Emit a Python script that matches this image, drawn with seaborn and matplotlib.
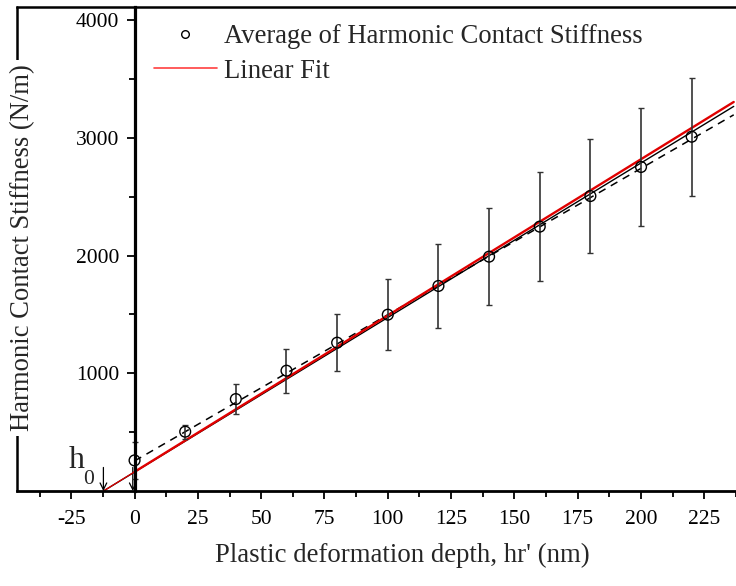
import matplotlib
matplotlib.use("Agg")
import matplotlib.pyplot as plt
from matplotlib.lines import Line2D
import numpy as np
import pandas as pd
import seaborn as sns

# ---- data ----
depth = [0, 20, 40, 60, 80, 100, 120, 140, 160, 180, 200, 220]
stiffness = [260, 504, 781, 1022, 1260, 1498, 1742, 1991, 2246, 2506, 2753, 3010]
stiff_err = [160, 60, 127, 188, 241, 303, 355, 411, 460, 485, 499, 500]

fit_red = (13.28, 163.0)      # slope, intercept (Linear Fit)
fit_black = (13.13, 161.0)    # thin black solid fit
fit_dash = (12.43, 255.0)     # dashed fit through data
h0 = -12.3

xticks = [-25, 0, 25, 50, 75, 100, 125, 150, 175, 200, 225]
yticks = [1000, 2000, 3000, 4000]
xlim = (-46.3, 236.6)
ylim = (0, 4112)

sns.set_theme(style="white")
plt.rcParams["font.family"] = ["Liberation Serif", "DejaVu Serif"]
plt.rcParams["axes.unicode_minus"] = False

fig = plt.figure(figsize=(7.36, 5.86), dpi=100)
W, H = 736, 586
ax = fig.add_axes([17.3 / W, (H - 491) / H, 1 - 17.3 / W, (491 - 7) / H])
ax.set_xlim(*xlim)
ax.set_ylim(*ylim)

df = pd.DataFrame({"depth": depth, "stiffness": stiffness, "err": stiff_err})

def fit_df(p, x0, x1):
    xs = [x0, x1]
    return pd.DataFrame({"x": xs, "y": [p[0] * v + p[1] for v in xs]})

sns.lineplot(data=fit_df(fit_dash, 0, xlim[1]), x="x", y="y", ax=ax, color="black",
             lw=1.1, linestyle=(0, (5, 4)), zorder=3)
sns.lineplot(data=fit_df(fit_black, h0, xlim[1]), x="x", y="y", ax=ax, color="black",
             lw=1.0, zorder=3)
sns.lineplot(data=fit_df(fit_red, h0, 0), x="x", y="y", ax=ax, color="#e00000",
             lw=0.9, zorder=4)
sns.lineplot(data=fit_df(fit_red, 0, xlim[1]), x="x", y="y", ax=ax, color="#e00000",
             lw=1.7, zorder=4)

ax.errorbar(df["depth"], df["stiffness"], yerr=df["err"], fmt="none",
            ecolor="#333333", elinewidth=1.2, capsize=2.2, capthick=1.0, zorder=5)
sns.scatterplot(data=df, x="depth", y="stiffness", ax=ax, marker="o", s=60,
                facecolor="none", edgecolor="black", linewidth=1.0, zorder=6)

ax.spines["left"].set_position(("data", 0))
ax.spines["left"].set_linewidth(2.3)
ax.spines["bottom"].set_linewidth(2.0)
ax.spines["top"].set_linewidth(1.8)
ax.spines["right"].set_visible(False)
for s in ["left", "bottom", "top"]:
    ax.spines[s].set_color("black")
    ax.spines[s].set_zorder(7)
ax.plot([0, 0], [0, 1], transform=ax.transAxes, color="black", lw=1.8,
        clip_on=False, zorder=1)

ax.set_xticks(xticks)
ax.set_xticks([t + 12.5 for t in [-50] + xticks], minor=True)
ax.set_yticks(yticks)
ax.set_yticks([500, 1500, 2500, 3500], minor=True)
ax.tick_params(axis="both", which="major", direction="out", length=6, width=1.3,
               labelsize=15.5, color="black", labelcolor="black")
ax.tick_params(axis="both", which="minor", direction="out", length=4, width=1.3,
               color="black")
ax.tick_params(axis="x", pad=8, bottom=True)
ax.tick_params(axis="x", which="minor", bottom=True)
ax.tick_params(axis="y", pad=5, left=True)
ax.tick_params(axis="y", which="minor", left=True)
ax.set_xlabel("")
ax.set_ylabel("")

fig.text(402 / W, 1 - 555 / H, "Plastic deformation depth, hr' (nm)", ha="center",
         va="center", fontsize=19.3)
fig.text(23 / W, 1 - 248 / H, "Harmonic Contact Stiffness (N/m)", ha="center",
         va="center", rotation=90, fontsize=19.2,
         bbox=dict(facecolor="white", edgecolor="none", pad=3), zorder=10)

ax.annotate("", xy=(h0, 0), xytext=(h0, 200),
            arrowprops=dict(arrowstyle="->", lw=0.9, color="black", shrinkA=0, shrinkB=0))
ax.annotate("", xy=(-0.7, 0), xytext=(-0.7, 200),
            arrowprops=dict(arrowstyle="->", lw=0.9, color="black", shrinkA=0, shrinkB=0))
fig.text(77 / W, 1 - 461 / H, "h", ha="center", va="center", fontsize=23)
fig.text(89 / W, 1 - 479 / H, "0", ha="center", va="center", fontsize=15.5)

handles = [
    Line2D([], [], marker="o", linestyle="none", markerfacecolor="none",
           markeredgecolor="black", markersize=5.5, markeredgewidth=1.0),
    Line2D([], [], color="#ff4040", lw=1.2),
]
leg = ax.legend(handles, ["Average of Harmonic Contact Stiffness", "Linear Fit"],
                loc="upper left", bbox_to_anchor=(154 / W, 1 - 24 / H),
                bbox_transform=fig.transFigure, frameon=False, fontsize=19.2,
                handlelength=2.35, handletextpad=0.28, borderpad=0, borderaxespad=0,
                labelspacing=0.36)

fig.savefig("out.png", dpi=100)
